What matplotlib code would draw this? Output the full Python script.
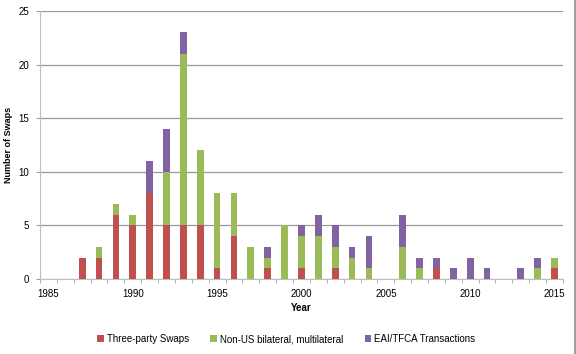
import matplotlib.pyplot as plt
import numpy as np

plt.rcParams.update({'font.size': 7, 'font.family': ['Liberation Sans', 'DejaVu Sans']})

years = list(range(1985, 2016))
# values per year 1985..2015
three_party = [0, 0, 2, 2, 6, 5, 8, 5, 5, 5, 1, 4, 0, 1, 0, 1, 0, 1, 0, 0, 0, 0, 0, 1, 0, 0, 0, 0, 0, 0, 1]
non_us = [0, 0, 0, 1, 1, 1, 0, 5, 16, 7, 7, 4, 3, 1, 5, 3, 4, 2, 2, 1, 0, 3, 1, 0, 0, 0, 0, 0, 0, 1, 1]
eai_tfca = [0, 0, 0, 0, 0, 0, 3, 4, 2, 0, 0, 0, 0, 1, 0, 1, 2, 2, 1, 3, 0, 3, 1, 1, 1, 2, 1, 0, 1, 1, 0]

labels = ["Three-party Swaps", "Non-US bilateral, multilateral", "EAI/TFCA Transactions"]
colors = ["#C0504D", "#9BBB59", "#8064A2"]

fig = plt.figure(figsize=(5.76, 3.54), dpi=100)
ax = fig.add_axes([0.0694, 0.212, 0.908, 0.757])

x = np.array(years)
a = np.array(three_party)
b = np.array(non_us)
c = np.array(eai_tfca)
w = 0.4
ax.bar(x, a, w, color=colors[0], label=labels[0], zorder=3)
ax.bar(x, b, w, bottom=a, color=colors[1], label=labels[1], zorder=3)
ax.bar(x, c, w, bottom=a + b, color=colors[2], label=labels[2], zorder=3)

ax.set_xlim(1984.5, 2015.5)
ax.set_ylim(0, 25)
ax.set_yticks(range(0, 26, 5))
ax.set_xticks(range(1985, 2016, 5))
ax.set_xticks(np.arange(1984.5, 2016, 1), minor=True)
ax.tick_params(axis='x', which='major', length=0, pad=7)
ax.tick_params(axis='x', which='minor', length=3, color='#A0A0A0')
ax.tick_params(axis='y', length=3, color='#A0A0A0', pad=5)
ax.yaxis.grid(True, color='#9A9A9A', linewidth=0.9, zorder=0)

for s in ['top', 'right']:
    ax.spines[s].set_visible(False)
ax.spines['left'].set_color('#BFBFBF')
ax.spines['bottom'].set_color('#BFBFBF')

ax.set_xlabel("Year", fontweight='bold', labelpad=3)
ax.set_ylabel("Number of Swaps", fontweight='bold', fontsize=6.5, labelpad=4)

fig.legend(loc='center', bbox_to_anchor=(0.497, 0.042), ncol=3, frameon=False,
           handlelength=0.7, handleheight=0.7, columnspacing=2.2, handletextpad=0.3)

# chart border on the right edge
fig.add_artist(plt.Line2D([0.9985, 0.9985], [0, 1], transform=fig.transFigure,
                          color='#8C8C8C', linewidth=1.2))

fig.savefig("out.png", dpi=100)
